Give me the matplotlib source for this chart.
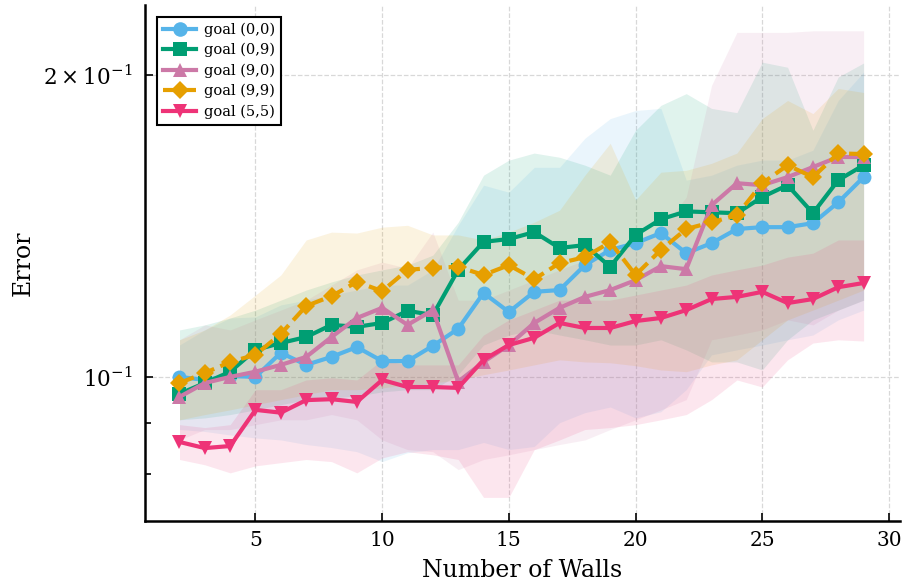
import numpy as np
import matplotlib
matplotlib.use("Agg")
import matplotlib.pyplot as plt

walls = list(range(2, 30))
labels = ["goal (0,0)", "goal (0,9)", "goal (9,0)", "goal (9,9)", "goal (5,5)"]

err_00 = [0.1, 0.0993, 0.1002, 0.1, 0.1057, 0.1028, 0.1047, 0.1071, 0.1037, 0.1037, 0.1074, 0.1117,
          0.1213, 0.1161, 0.1216, 0.1221, 0.1293, 0.1339, 0.1360, 0.1392, 0.1329, 0.1360, 0.1405,
          0.1411, 0.1411, 0.1424, 0.1494, 0.1583]
err_09 = [0.0962, 0.0986, 0.1012, 0.1064, 0.1081, 0.1096, 0.1127, 0.1122, 0.1132, 0.1164, 0.1153, 0.1279,
          0.1364, 0.1373, 0.1395, 0.1345, 0.1354, 0.1288, 0.1386, 0.1437, 0.1463, 0.1460, 0.1457,
          0.1512, 0.1554, 0.1457, 0.1572, 0.1627]
err_90 = [0.0955, 0.0986, 0.1, 0.1012, 0.1028, 0.1047, 0.1096, 0.1145, 0.1172, 0.1127, 0.1166, 0.0989,
          0.1035, 0.1076, 0.1132, 0.1172, 0.1202, 0.1221, 0.1249, 0.1290, 0.1281, 0.1484, 0.1561,
          0.1554, 0.1583, 0.1620, 0.1658, 0.1658]
err_99 = [0.0986, 0.1009, 0.1035, 0.1052, 0.1104, 0.1177, 0.1204, 0.1244, 0.1218, 0.1279, 0.1285, 0.1288,
          0.1264, 0.1293, 0.1252, 0.1299, 0.1317, 0.1363, 0.1264, 0.1339, 0.1405, 0.1427, 0.1450,
          0.1561, 0.1627, 0.1583, 0.1672, 0.1669]
err_55 = [0.0861, 0.0849, 0.0853, 0.0927, 0.0921, 0.0948, 0.0950, 0.0944, 0.0993, 0.0977, 0.0977, 0.0975,
          0.1040, 0.1076, 0.1094, 0.1132, 0.1119, 0.1119, 0.1137, 0.1145, 0.1166, 0.1196, 0.1202,
          0.1216, 0.1185, 0.1196, 0.1229, 0.1241]

hi_00 = [.1076, .1114, .1145, .1148, .1180, .1193, .1207, .1221, .1235, .1235, .1279, .1417, .1554, .1529,
         .1619, .1619, .1731, .1811, .1845, .1854, .1572, .1590, .1627, .1646, .1646, .1684, .1888, .2015]
lo_00 = [.0886, .0882, .0875, .0869, .0865, .0856, .0850, .0842, .0823, .0840, .0846, .0846, .0860, .0846,
         .0852, .0900, .0921, .0933, .0910, .0923, .0971, .1052, .1064, .1076, .1089, .1101, .1140, .1166]
hi_09 = [.1114, .1127, .1145, .1166, .1193, .1221, .1244, .1264, .1279, .1293, .1323, .1427, .1590, .1646,
         .1673, .1657, .1627, .1590, .1763, .1867, .1918, .1854, .1836, .2062, .2038, .1763, .1993, .2058]
lo_09 = [.0906, .0910, .0917, .0927, .0938, .0949, .0953, .0957, .0966, .0971, .0971, .1005, .1076, .1101,
         .1114, .1101, .1089, .1076, .1076, .1089, .1064, .1035, .1035, .1016, .1089, .1140, .1166, .1193]
hi_90 = [.1089, .1127, .1114, .1140, .1166, .1193, .1235, .1279, .1302, .1284, .1395, .1193, .1193, .1221,
         .1249, .1279, .1308, .1339, .1370, .1401, .1512, .1955, .2208, .2208, .2208, .2216, .2216, .2216]
lo_90 = [.0865, .0886, .0886, .0896, .0906, .0906, .0917, .0906, .0865, .0846, .0842, .0808, .0827, .0836,
         .0846, .0856, .0865, .0886, .0906, .0927, .0949, .1089, .1101, .1114, .1140, .1127, .1166, .1193]
hi_99 = [.1089, .1114, .1153, .1207, .1264, .1370, .1395, .1392, .1411, .1417, .1386, .1386, .1370, .1395,
         .1427, .1467, .1590, .1711, .1502, .1601, .1608, .1634, .1673, .1811, .1888, .1832, .1941, .1923]
lo_99 = [.0906, .0917, .0927, .0938, .0949, .0960, .0971, .0971, .0975, .0982, .0986, .0993, .1005, .1016,
         .1028, .1040, .1035, .1033, .1026, .1016, .1012, .1028, .1040, .1089, .1140, .1166, .1193, .1221]
hi_55 = [.0896, .0890, .0896, .0971, .0971, .0993, .0998, .0993, .1040, .1028, .1028, .1028, .1101, .1140,
         .1166, .1193, .1193, .1193, .1207, .1221, .1235, .1264, .1279, .1293, .1317, .1329, .1370, .1370]
lo_55 = [.0827, .0817, .0802, .0815, .0821, .0827, .0823, .0802, .0830, .0842, .0836, .0827, .0758, .0758,
         .0846, .0865, .0886, .0890, .0896, .0906, .0917, .0949, .0993, .0977, .1040, .1081, .1089, .1086]

colors = ["#56B4E9", "#009E73", "#CC79A7", "#E69F00", "#EE3377"]
markers = ["o", "s", "^", "D", "v"]
styles = ["-", "-", "-", "--", "-"]
means = [err_00, err_09, err_90, err_99, err_55]
highs = [hi_00, hi_09, hi_90, hi_99, hi_55]
lows = [lo_00, lo_09, lo_90, lo_99, lo_55]

plt.rcParams["font.family"] = "DejaVu Serif"
plt.rcParams["mathtext.fontset"] = "dejavuserif"

fig = plt.figure(figsize=(9.08, 5.88), dpi=100)
ax = fig.add_axes([0.16, 0.114, 0.831, 0.877])

for m, hi, lo, c, mk, ls, lab in zip(means, highs, lows, colors, markers, styles, labels):
    ax.fill_between(walls, lo, hi, color=c, alpha=0.12, linewidth=0)
    ms = 9 if mk == "D" else 10
    ax.plot(walls, m, color=c, marker=mk, linestyle=ls, linewidth=3, markersize=ms,
            markeredgewidth=0, label=lab)

ax.set_yscale("log")
ax.set_xlim(0.65, 30.43)
ax.set_ylim(0.0718, 0.235)
ax.set_xticks([5, 10, 15, 20, 25, 30])
ax.set_yticks([0.1, 0.2])
ax.set_yticklabels([r"$10^{-1}$", r"$2\times10^{-1}$"])
ax.set_yticks([0.08, 0.09], minor=True)
ax.yaxis.set_minor_formatter(matplotlib.ticker.NullFormatter())
ax.tick_params(direction="in", labelsize=14.5, length=6, width=1.2)
ax.tick_params(axis="y", pad=9, labelsize=15.5)
ax.tick_params(axis="x", pad=7)
ax.tick_params(which="minor", direction="in", length=4, width=1.2)
ax.grid(True, which="major", color="#d8d8d8", linestyle="--", linewidth=0.9)
ax.set_axisbelow(True)
for s in ["top", "right"]:
    ax.spines[s].set_visible(False)
for s in ["left", "bottom"]:
    ax.spines[s].set_linewidth(1.8)

ax.set_xlabel("Number of Walls", fontsize=17, labelpad=7)
ax.set_ylabel("Error", fontsize=17, labelpad=6)

leg = ax.legend(loc="upper left", bbox_to_anchor=(0.006, 0.992), fontsize=10.5, fancybox=False,
                edgecolor="black", framealpha=1, handlelength=2.3, borderpad=0.4,
                labelspacing=0.42, handletextpad=0.5, markerscale=1.05)
leg.get_frame().set_linewidth(1.5)

fig.savefig("out.png", dpi=100)
